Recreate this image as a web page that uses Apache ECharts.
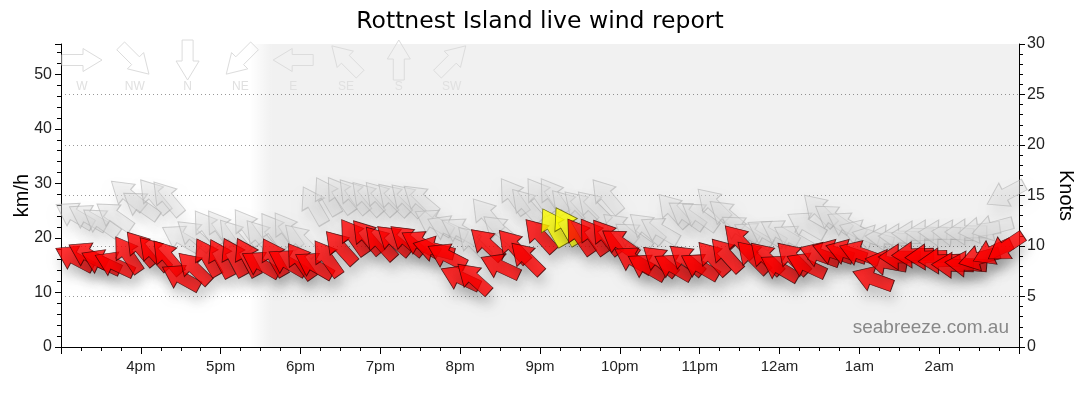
<!DOCTYPE html>
<html><head><meta charset="utf-8">
<script src="https://cdn.jsdelivr.net/npm/echarts@6/dist/echarts.min.js"></script>
<style>html,body{margin:0;padding:0;background:#fff}#c{width:1080px;height:414px}</style>
</head><body><div id="c"></div>
<script>
// ---- data (times local, 10 minute observations) ----
const times = [
'15:10','15:20','15:30','15:40','15:50',
'16:00','16:10','16:20','16:30','16:40','16:50',
'17:00','17:10','17:20','17:30','17:40','17:50',
'18:00','18:10','18:20','18:30','18:40','18:50',
'19:00','19:10','19:20','19:30','19:40','19:50',
'20:00','20:10','20:20','20:30','20:40','20:50',
'21:00','21:10','21:20','21:30','21:40','21:50',
'22:00','22:10','22:20','22:30','22:40','22:50',
'23:00','23:10','23:20','23:30','23:40','23:50',
'00:00','00:10','00:20','00:30','00:40','00:50',
'01:00','01:10','01:20','01:30','01:40','01:50',
'02:00','02:10','02:20','02:30','02:40','02:50'];
// average wind, km/h
const windKmh = [
16.3,16.9,15.6,15.2,17.0,
18.1,17.2,16.5,12.8,14.5,16.5,
16.3,16.5,16.5,15.2,16.5,15.5,
15.8,15.0,16.3,18.3,20.2,20.2,
19.1,19.6,19.6,19.0,18.0,16.7,
12.7,12.6,18.9,14.8,18.5,16.3,
20.5,22.0,22.2,20.3,20.3,20.2,
19.1,16.0,14.7,15.8,14.7,16.0,
14.8,16.3,16.9,19.4,16.5,16.3,
14.5,16.3,15.0,16.9,17.4,17.4,
17.2,12.5,15.5,16.5,16.9,16.5,
15.8,15.0,15.2,16.3,17.4,18.3];
// wind direction (degrees, direction wind comes from)
const windDir = [
118,118,115,115,146,
140,138,140,119,134,150,
152,152,152,120,150,120,
145,120,145,138,145,140,
138,130,130,120,105,117,
115,132,133,115,138,135,
138,150,150,145,145,142,
125,120,120,130,120,130,
120,138,138,137,135,135,
120,135,115,110,108,108,
110,110,100,90,88,88,
88,92,95,75,65,56];
// gusts, km/h
const gustKmh = [
24.2,23.8,22.9,24.0,27.9,
26.0,27.7,27.3,20.0,20.5,21.8,
21.8,20.3,22.0,20.2,21.3,21.4,
19.6,26.0,27.7,27.9,27.7,27.3,
27.3,27.1,27.0,27.0,22.9,21.8,
21.3,19.2,24.2,21.4,27.7,26.0,
27.7,27.7,25.8,25.7,25.7,27.7,
21.8,20.3,21.8,21.4,25.1,24.2,
24.0,26.2,24.2,21.6,20.5,20.9,
21.0,20.0,22.4,25.1,23.6,22.4,
21.0,20.0,20.0,20.2,20.7,20.9,
20.9,20.9,21.1,21.4,21.8,28.0];
const gustDir = [
120,120,125,125,130,
125,140,140,120,130,145,
145,140,145,140,145,145,
135,150,150,145,140,138,
138,135,135,130,120,115,
120,135,140,130,145,138,
145,145,138,135,135,140,
130,125,130,120,138,125,
125,135,130,125,120,120,
120,120,120,135,125,120,
110,105,95,92,92,92,
92,95,90,82,75,62];
const highlightTimes = ['21:10','21:20'];
const nightFade = ['17:22','17:38'];      // sunset shading fade-in
const compassLabels = ['W','NW','N','NE','E','SE','S','SW'];
const compassDirs = [270,315,0,45,90,135,180,225];
const kmhTicks = [0,10,20,30,40,50];
const knotMax = 30;
const KMH_PER_KNOT = 1.852;

// ---- helpers ----
function toHour(s){const p=s.split(':').map(Number);return (p[0]<12?p[0]+24:p[0])+p[1]/60;}
function hourLabel(v){const h=Math.round(v)%24;const h12=h%12===0?12:h%12;return h12+(h>=12?'pm':'am');}
const ARROW='path://M13,0L26,20L19,20L19,42L7,42L7,20L0,20Z';
const ARROW_SIZE=[26,42];
function arrowPts(cx,cy,bearing,L,hw,hl,sw){
  const base=[[0,-L/2],[hw,-L/2+hl],[sw,-L/2+hl],[sw,L/2],[-sw,L/2],[-sw,-L/2+hl],[-hw,-L/2+hl]];
  const t=bearing*Math.PI/180,c=Math.cos(t),s=Math.sin(t);
  return base.map(([x,y])=>[cx+x*c-y*s,cy+x*s+y*c]);
}

const gustData = times.map((t,i)=>({value:[toHour(t),gustKmh[i]],symbolRotate:-(gustDir[i]+180)}));
const windData = times.map((t,i)=>{
  const o={value:[toHour(t),windKmh[i]],symbolRotate:-(windDir[i]+180)};
  if(highlightTimes.indexOf(t)>=0) o.itemStyle={color:'#ffff00',borderColor:'#555500'};
  return o;
});

const legendGraphics=[];
compassLabels.forEach((lab,i)=>{
  const cx=82+i*52.8;
  legendGraphics.push({type:'polygon',z:10,shape:{points:arrowPts(cx,60,(compassDirs[i]+180)%360,40,11.5,19,5.5)},
    style:{fill:'rgba(255,255,255,0)',stroke:'#dcdcdc',lineWidth:1}});
  legendGraphics.push({type:'text',z:10,x:cx,y:87,style:{text:lab,fontSize:12,fill:'#e0e0e0',align:'center',verticalAlign:'middle',fontFamily:'Liberation Sans'}});
});

const chart=echarts.init(document.getElementById('c'),null,{renderer:'canvas'});
const axisColor='#000';
chart.setOption({
  animation:false,
  backgroundColor:'#fff',
  title:{text:'Rottnest Island live wind report',left:'center',top:5,
    textStyle:{fontSize:23.5,fontWeight:'normal',color:'#000',fontFamily:'DejaVu Sans'}},
  grid:{left:61,right:61,top:44,bottom:67,containLabel:false,outerBoundsMode:'none'},
  xAxis:{type:'value',min:15,max:27,interval:1,
    axisLine:{lineStyle:{color:axisColor}},
    axisTick:{length:7,lineStyle:{color:axisColor}},
    minorTick:{show:true,splitNumber:4,length:4,lineStyle:{color:axisColor}},
    splitLine:{show:false},
    axisLabel:{formatter:hourLabel,color:'#222',fontSize:15,margin:12,fontFamily:'Liberation Sans',showMinLabel:false,showMaxLabel:false}},
  yAxis:[
    {type:'value',min:0,max:knotMax*KMH_PER_KNOT,interval:10,position:'left',
      name:'km/h',nameLocation:'middle',nameGap:29,nameMoveOverlap:false,
      nameTextStyle:{fontSize:20,color:'#000',fontFamily:'Liberation Sans'},
      axisLine:{show:true,lineStyle:{color:axisColor}},
      axisTick:{show:true,length:6,lineStyle:{color:axisColor}},
      minorTick:{show:true,splitNumber:5,length:4,lineStyle:{color:axisColor}},
      splitLine:{show:false},
      axisLabel:{showMaxLabel:false,fontSize:16,color:'#222',margin:9,fontFamily:'Liberation Sans',
        formatter:v=>kmhTicks.indexOf(v)>=0?String(v):''}},
    {type:'value',min:0,max:knotMax,interval:5,position:'right',
      name:'Knots',nameLocation:'middle',nameRotate:-90,nameGap:37,nameMoveOverlap:false,
      nameTextStyle:{fontSize:20,color:'#000',fontFamily:'Liberation Sans'},
      axisLine:{show:true,lineStyle:{color:axisColor}},
      axisTick:{show:true,length:6,lineStyle:{color:axisColor}},
      minorTick:{show:true,splitNumber:5,length:4,lineStyle:{color:axisColor}},
      splitLine:{show:true,showMinLine:false,showMaxLine:false,lineStyle:{type:[1,3],color:'#999',width:1}},
      axisLabel:{fontSize:16,color:'#222',margin:8,fontFamily:'Liberation Sans'}}
  ],
  graphic:[
    ...legendGraphics,
    {type:'text',z:10,right:71,top:318,style:{text:'seabreeze.com.au',fontSize:19,fill:'#888',fontFamily:'Liberation Sans'}}
  ],
  series:[
    {type:'line',data:[[15,0]],symbol:'none',lineStyle:{opacity:0},silent:true,z:1,
      markArea:{silent:true,data:[
        [{xAxis:toHour(nightFade[0]),itemStyle:{color:new echarts.graphic.LinearGradient(0,0,1,0,[{offset:0,color:'rgba(0,0,0,0)'},{offset:1,color:'rgba(0,0,0,0.055)'}])}},{xAxis:toHour(nightFade[1])}],
        [{xAxis:toHour(nightFade[1]),itemStyle:{color:'rgba(0,0,0,0.055)'}},{xAxis:27}]
      ]}},
    {type:'scatter',name:'gust',yAxisIndex:0,data:gustData,symbol:ARROW,symbolSize:ARROW_SIZE,z:2,silent:true,
      itemStyle:{color:'rgba(224,224,224,0.55)',borderColor:'rgba(175,175,175,0.75)',borderWidth:1,
        shadowBlur:12,shadowColor:'rgba(0,0,0,0.13)',shadowOffsetX:2,shadowOffsetY:9}},
    {type:'scatter',name:'wind',yAxisIndex:0,data:windData,symbol:ARROW,symbolSize:ARROW_SIZE,z:3,silent:true,
      itemStyle:{color:'#ff0000',borderColor:'#3a0000',borderWidth:0.8,
        shadowBlur:12,shadowColor:'rgba(0,0,0,0.22)',shadowOffsetX:2,shadowOffsetY:9}}
  ]
});
</script></body></html>
